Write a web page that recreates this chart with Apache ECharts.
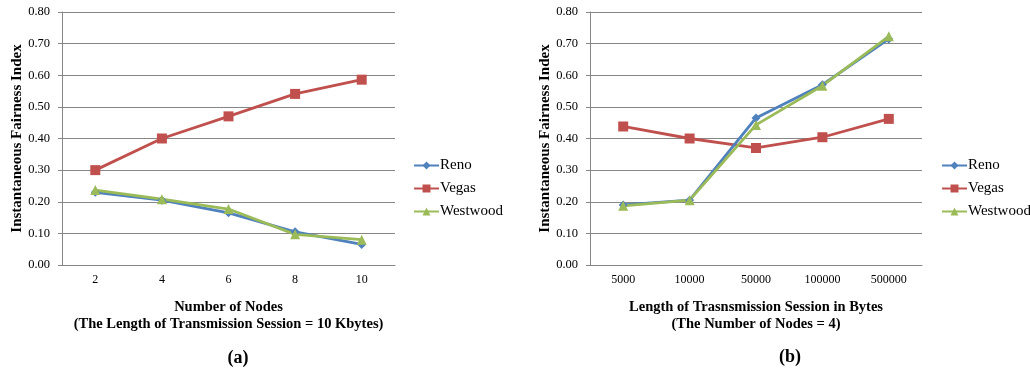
<!DOCTYPE html>
<html><head><meta charset="utf-8">
<script src="https://cdn.jsdelivr.net/npm/echarts@6/dist/echarts.min.js"></script>
<style>html,body{margin:0;padding:0;background:#fff}#c{width:1030px;height:369px}</style>
</head><body><div id="c"></div>
<script>
const catsA = ['2','4','6','8','10'];
const catsB = ['5000','10000','50000','100000','500000'];
const seriesNames = ['Reno','Vegas','Westwood'];
const renoA = [0.230, 0.205, 0.165, 0.105, 0.065];
const vegasA = [0.300, 0.400, 0.470, 0.541, 0.586];
const westwoodA = [0.237, 0.208, 0.177, 0.097, 0.080];
const renoB = [0.190, 0.205, 0.465, 0.570, 0.715];
const vegasB = [0.438, 0.400, 0.370, 0.404, 0.462];
const westwoodB = [0.187, 0.205, 0.443, 0.567, 0.723];
const yTicks = ['0.00','0.10','0.20','0.30','0.40','0.50','0.60','0.70','0.80'];

const colors = ['#4F81BD','#C0504D','#9BBB59'];
const symbols = ['diamond','rect','triangle'];
const symSizes = [9,10,10];
const F = 'Liberation Serif';

function yAxis(gi){
  return {gridIndex:gi,type:'value',min:0,max:0.8,interval:0.1,
    name:'Instantaneous Fairness Index',nameLocation:'middle',nameGap:36,
    nameTextStyle:{fontFamily:F,fontWeight:'bold',fontSize:15,color:'#000'},
    axisLine:{show:true,lineStyle:{color:'#868686'}},
    axisTick:{show:true,length:4,lineStyle:{color:'#868686'}},
    axisLabel:{fontFamily:F,fontSize:12.5,color:'#000',margin:12,formatter:v=>yTicks[Math.round(v*10)]},
    splitLine:{lineStyle:{color:'#868686',width:1}}};
}
function xAxis(gi,cats,name){
  return {gridIndex:gi,type:'category',data:cats,boundaryGap:true,
    name:name,nameLocation:'middle',nameGap:34,
    nameTextStyle:{fontFamily:F,fontWeight:'bold',fontSize:14.5,color:'#000',lineHeight:17},
    axisLine:{lineStyle:{color:'#868686'}},axisTick:{show:false},
    axisLabel:{fontFamily:F,fontSize:12,color:'#000',margin:9}};
}
function mkSeries(gi,data,i){
  return {name:seriesNames[i],type:'line',xAxisIndex:gi,yAxisIndex:gi,data:data,
    symbol:symbols[i],symbolSize:symSizes[i],showSymbol:true,
    lineStyle:{color:colors[i],width:2.8},itemStyle:{color:colors[i]},z:i===1?2:3};
}
function legend(left){
  return {left:left,top:158,padding:0,orient:'vertical',itemGap:8,itemWidth:25,itemHeight:10,
    data:seriesNames,textStyle:{fontFamily:F,fontSize:15,color:'#000',padding:[0,0,0,-4]}};
}
const chart = echarts.init(document.getElementById('c'));
chart.setOption({
  animation:false,
  color:colors,
  grid:[{left:62,top:12,width:333,height:253},{left:590,top:12,width:332,height:253}],
  xAxis:[xAxis(0,catsA,'Number of Nodes\n(The Length of Transmission Session = 10 Kbytes)'),
         xAxis(1,catsB,'Length of Trasnsmission Session in Bytes\n(The Number of Nodes = 4)')],
  yAxis:[yAxis(0),yAxis(1)],
  legend:[legend(413),legend(941)],
  graphic:[
    {type:'text',x:238,y:358,style:{text:'(a)',textAlign:'center',textVerticalAlign:'middle',font:'bold 18px "Liberation Serif"',fill:'#000'}},
    {type:'text',x:790,y:357,style:{text:'(b)',textAlign:'center',textVerticalAlign:'middle',font:'bold 18px "Liberation Serif"',fill:'#000'}}
  ],
  series:[mkSeries(0,renoA,0),mkSeries(0,vegasA,1),mkSeries(0,westwoodA,2),
          mkSeries(1,renoB,0),mkSeries(1,vegasB,1),mkSeries(1,westwoodB,2)]
});
</script></body></html>
